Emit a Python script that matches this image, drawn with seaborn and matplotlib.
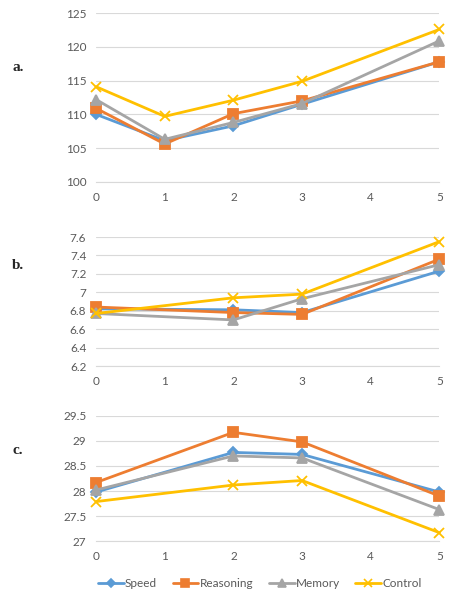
import matplotlib
matplotlib.use("Agg")
import matplotlib.pyplot as plt
import seaborn as sns

series = ["Speed", "Reasoning", "Memory", "Control"]
colors = ["#5B9BD5", "#ED7D31", "#A5A5A5", "#FFC000"]
markers = ["D", "s", "^", "x"]
msizes = [5, 6.5, 6.5, 7]

# panel a
x_a = [0, 1, 2, 3, 5]
speed_a = [110.0, 106.1, 108.3, 111.5, 117.8]
reasoning_a = [110.9, 105.6, 110.1, 112.0, 117.8]
memory_a = [112.2, 106.3, 108.8, 111.6, 120.9]
control_a = [114.1, 109.7, 112.1, 114.9, 122.6]

# panel b
x_b = [0, 2, 3, 5]
speed_b = [6.82, 6.81, 6.78, 7.23]
reasoning_b = [6.84, 6.78, 6.76, 7.36]
memory_b = [6.77, 6.70, 6.93, 7.30]
control_b = [6.77, 6.94, 6.98, 7.55]

# panel c
x_c = [0, 2, 3, 5]
speed_c = [27.98, 28.77, 28.73, 27.98]
reasoning_c = [28.17, 29.17, 28.98, 27.90]
memory_c = [28.02, 28.70, 28.66, 27.63]
control_c = [27.79, 28.12, 28.21, 27.17]

panels = [
    ("a.", x_a, [speed_a, reasoning_a, memory_a, control_a], (100, 125), [100, 105, 110, 115, 120, 125]),
    ("b.", x_b, [speed_b, reasoning_b, memory_b, control_b], (6.2, 7.6), [6.2, 6.4, 6.6, 6.8, 7.0, 7.2, 7.4, 7.6]),
    ("c.", x_c, [speed_c, reasoning_c, memory_c, control_c], (27, 29.5), [27, 27.5, 28, 28.5, 29, 29.5]),
]

sns.set_style("white")
plt.rcParams["font.family"] = ["Lato", "DejaVu Sans"]

fig = plt.figure(figsize=(4.64, 6.0), dpi=100)
boxes = [
    [0.207, 0.697, 0.740, 0.281],
    [0.207, 0.390, 0.740, 0.215],
    [0.207, 0.098, 0.740, 0.209],
]
label_y = [0.888, 0.558, 0.250]

for (label, xs, vals, ylim, yticks), box, ly in zip(panels, boxes, label_y):
    ax = fig.add_axes(box)
    for v, c, m, ms in zip(vals, colors, markers, msizes):
        sns.lineplot(x=xs, y=v, color=c, marker=m, markersize=ms,
                     markeredgewidth=1.3, markeredgecolor=c, linewidth=2,
                     ax=ax, clip_on=False, zorder=3)
    ax.set_xlim(0, 5)
    ax.set_ylim(*ylim)
    ax.set_xticks([0, 1, 2, 3, 4, 5])
    ax.set_yticks(yticks)
    ax.set_yticklabels(["{:g}".format(t) for t in yticks])
    ax.grid(axis="y", color="#D9D9D9", linewidth=0.8)
    ax.set_axisbelow(True)
    for s in ["top", "right", "left"]:
        ax.spines[s].set_visible(False)
    ax.spines["bottom"].set_color("#D9D9D9")
    ax.tick_params(axis="both", length=0, labelsize=8.5, labelcolor="#595959", pad=7)
    fig.text(0.026, ly, label, fontsize=11, fontweight="bold",
             family="Liberation Serif", va="center")

handles = [
    plt.Line2D([], [], color=c, marker=m, markersize=ms * 0.8, linewidth=2,
               markeredgewidth=1.2, markeredgecolor=c)
    for c, m, ms in zip(colors, markers, msizes)
]
fig.legend(handles, series, loc="center", bbox_to_anchor=(0.56, 0.027), ncol=4,
           frameon=False, fontsize=8.5, labelcolor="#595959", handlelength=2.2,
           handletextpad=0.1, columnspacing=1.3)

fig.savefig("out.png", dpi=100)
